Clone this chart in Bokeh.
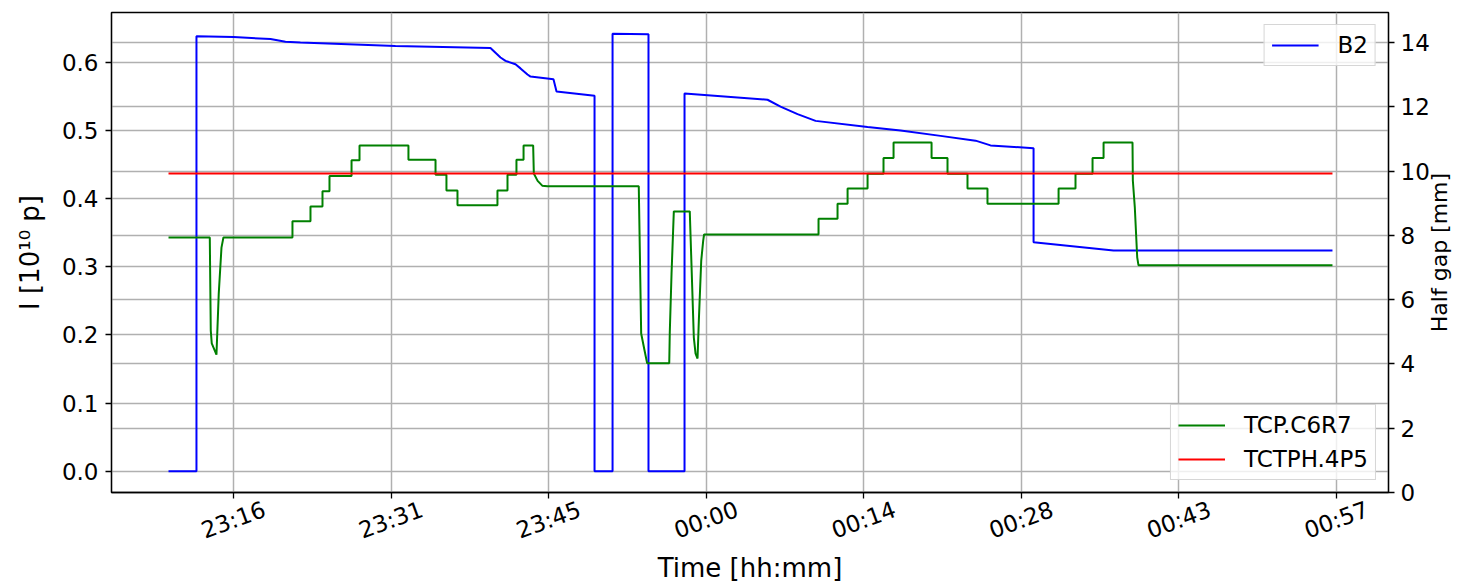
import math
from bokeh.plotting import figure
from bokeh.models import (Range1d, LinearAxis, FixedTicker, Legend, LegendItem, Grid,
                          PrintfTickFormatter)
from bokeh.embed import file_html
from bokeh.resources import INLINE

# time axis: minutes after 23:00
tick_minutes = [16.75, 31.18, 45.61, 60.04, 74.46, 88.89, 103.32, 117.75]
tick_labels = ["23:16", "23:31", "23:45", "00:00", "00:14", "00:28", "00:43", "00:57"]

# B2 beam intensity [1e10 p] (left axis)
b2_t = [10.80, 13.36, 13.36, 16.75, 20.14, 21.51, 22.88, 31.58, 40.28, 40.74, 41.20, 41.66,
        42.57, 43.03, 43.67, 43.95, 46.05, 46.33, 49.81, 49.81, 51.46, 51.46, 54.75, 54.75,
        58.05, 58.05, 65.65, 66.84, 68.40, 70.05, 74.81, 77.83, 81.49, 84.70, 86.07, 90.01,
        90.01, 97.33, 117.38]
b2_i = [0.0, 0.0, 0.638, 0.637, 0.634, 0.630, 0.629, 0.624, 0.621, 0.614, 0.607, 0.602,
        0.597, 0.591, 0.582, 0.579, 0.575, 0.557, 0.551, 0.0, 0.0, 0.642, 0.641, 0.0,
        0.0, 0.554, 0.545, 0.535, 0.524, 0.514, 0.505, 0.500, 0.492, 0.485, 0.478, 0.474,
        0.336, 0.324, 0.324]

# TCP.C6R7 half gap [mm] (right axis)
tcp_t = [10.80, 14.58, 14.67, 14.76, 15.19, 15.40, 15.65, 15.83, 22.15, 22.15, 23.80, 23.80,
         24.90, 24.90, 25.54, 25.54, 27.56, 27.56, 28.29, 28.29, 32.77, 32.77, 35.25, 35.25,
         36.25, 36.25, 37.26, 37.26, 40.92, 40.92, 41.84, 41.84, 42.66, 42.66, 43.31, 43.31,
         44.19, 44.25, 44.60, 45.02, 45.50, 53.86, 54.08, 54.39, 54.63, 56.65, 56.70, 56.86,
         57.07, 58.53, 58.90, 59.06, 59.24, 59.36, 59.58, 59.76, 59.84, 70.32, 70.32, 72.06,
         72.06, 72.98, 72.98, 74.81, 74.81, 76.27, 76.27, 77.19, 77.19, 80.67, 80.67, 82.13,
         82.13, 83.96, 83.96, 85.79, 85.79, 92.30, 92.30, 93.85, 93.85, 95.41, 95.41, 96.42,
         96.42, 99.07, 99.10, 99.28, 99.50, 99.62, 117.38]
tcp_gap = [7.94, 7.94, 5.04, 4.64, 4.29, 6.19, 7.62, 7.94, 7.94, 8.44, 8.44, 8.90,
           8.90, 9.38, 9.38, 9.85, 9.85, 10.34, 10.34, 10.80, 10.80, 10.36, 10.36, 9.89,
           9.89, 9.40, 9.40, 8.94, 8.94, 9.40, 9.40, 9.89, 9.89, 10.36, 10.36, 10.80,
           10.80, 9.93, 9.70, 9.55, 9.53, 9.53, 4.95, 4.42, 4.02, 4.02, 4.99, 6.81,
           8.75, 8.75, 4.83, 4.32, 4.17, 5.35, 7.22, 7.84, 8.03, 8.03, 8.52, 8.52,
           8.99, 8.99, 9.46, 9.46, 9.92, 9.92, 10.41, 10.41, 10.89, 10.89, 10.41, 10.41,
           9.92, 9.92, 9.46, 9.46, 8.99, 8.99, 9.46, 9.46, 9.92, 9.92, 10.41, 10.41,
           10.89, 10.89, 9.71, 8.88, 7.32, 7.07, 7.07]

# TCTPH.4P5 half gap [mm] (right axis)
tctph_t = [10.80, 117.38]
tctph_gap = [9.93, 9.93]

FONT = "DejaVu Sans"
TICK_FS = "23px"

p = figure(frame_width=1277, frame_height=480,
           x_range=Range1d(5.58, 122.51), y_range=Range1d(-0.0312, 0.673),
           output_backend="svg", toolbar_location=None,
           min_border_left=111, min_border_right=70, min_border_top=12, min_border_bottom=89)
p.extra_y_ranges = {"gap": Range1d(0, 14.94)}
p.background_fill_color = "white"
p.border_fill_color = "white"
p.outline_line_color = "black"
p.outline_line_width = 1.3
p.outline_line_alpha = 1.0

grid_color = "#b0b0b0"

# left axis
p.yaxis.ticker = FixedTicker(ticks=[0.0, 0.1, 0.2, 0.3, 0.4, 0.5, 0.6])
p.yaxis.formatter = PrintfTickFormatter(format="%.1f")
p.yaxis.axis_label = "I [10\u00b9\u2070 p]"

# right axis (ticks)
gap_ticks = [0, 2, 4, 6, 8, 10, 12, 14]
ax_r = LinearAxis(y_range_name="gap", ticker=FixedTicker(ticks=gap_ticks))
p.add_layout(ax_r, "right")

# right axis title, reading bottom-to-top like the original (anchored at its start)
title_start = 4.99
ax_rt = LinearAxis(y_range_name="gap", ticker=FixedTicker(ticks=[title_start]),
                   major_label_overrides={title_start: "Half gap [mm]"})
ax_rt.axis_line_color = None
ax_rt.major_tick_line_color = None
ax_rt.major_tick_out = 0
ax_rt.major_tick_in = 0
ax_rt.minor_tick_line_color = None
ax_rt.minor_tick_out = 0
ax_rt.major_label_orientation = math.pi / 2
ax_rt.major_label_standoff = 4
ax_rt.major_label_text_font = FONT
ax_rt.major_label_text_font_size = "22px"
ax_rt.major_label_text_color = "black"
p.add_layout(ax_rt, "right")

# x axis: tick marks at the tick times (labels drawn by a second axis, centred like matplotlib)
ax_x = p.xaxis[0]
ax_x.ticker = FixedTicker(ticks=tick_minutes)
ax_x.major_label_overrides = {t: "" for t in tick_minutes}
ax_x.major_label_standoff = 0
p.xgrid.ticker = FixedTicker(ticks=tick_minutes)

label_shift = 2.84  # minutes: moves the right-aligned rotated label so its centre sits on the tick
shifted = [round(t + label_shift, 2) for t in tick_minutes]
ax_lab = LinearAxis(ticker=FixedTicker(ticks=shifted),
                    major_label_overrides={s: l for s, l in zip(shifted, tick_labels)},
                    axis_label="Time [hh:mm]")
ax_lab.axis_line_color = None
ax_lab.major_tick_line_color = None
ax_lab.major_tick_out = 0
ax_lab.major_tick_in = 0
ax_lab.minor_tick_line_color = None
ax_lab.minor_tick_out = 0
ax_lab.major_label_orientation = math.radians(20)
ax_lab.major_label_standoff = 10
ax_lab.major_label_text_font = FONT
ax_lab.major_label_text_font_size = TICK_FS
ax_lab.major_label_text_color = "black"
ax_lab.axis_label_text_font = FONT
ax_lab.axis_label_text_font_size = "26px"
ax_lab.axis_label_text_font_style = "normal"
ax_lab.axis_label_text_color = "black"
ax_lab.axis_label_standoff = -6
p.add_layout(ax_lab, "below")

for ax in [ax_x, p.yaxis[0], ax_r]:
    ax.axis_line_color = "black"
    ax.axis_line_width = 1.3
    ax.major_tick_line_color = "black"
    ax.major_tick_line_width = 1.3
    ax.major_tick_out = 6
    ax.major_tick_in = 0
    ax.minor_tick_line_color = None
    ax.major_label_text_font = FONT
    ax.major_label_text_font_size = TICK_FS
    ax.major_label_text_color = "black"
    ax.axis_label_text_font = FONT
    ax.axis_label_text_font_style = "normal"
    ax.axis_label_text_color = "black"

p.yaxis.major_label_standoff = 7
p.yaxis.axis_label_text_font_size = "26px"
p.yaxis.axis_label_standoff = 14
ax_r.major_label_standoff = 6

p.xgrid.grid_line_color = grid_color
p.xgrid.grid_line_width = 1.5
p.ygrid.grid_line_color = grid_color
p.ygrid.grid_line_width = 1.5
g2 = Grid(dimension=1, ticker=FixedTicker(ticks=gap_ticks), y_range_name="gap",
          grid_line_color=grid_color, grid_line_width=1.5)
p.add_layout(g2)

r_b2 = p.line(b2_t, b2_i, line_color="#0000ff", line_width=2)
r_tcp = p.line(tcp_t, tcp_gap, line_color="#008000", line_width=2, y_range_name="gap")
r_tctph = p.line(tctph_t, tctph_gap, line_color="#ff0000", line_width=2, y_range_name="gap")

def style_legend(lg):
    lg.label_text_font = FONT
    lg.label_text_font_size = "23px"
    lg.label_text_color = "black"
    lg.glyph_width = 47
    lg.glyph_height = 20
    lg.label_standoff = 19
    lg.padding = 7
    lg.spacing = 8
    lg.margin = 12
    lg.border_line_color = "#cccccc"
    lg.border_line_alpha = 0.8
    lg.border_line_width = 1.3
    lg.background_fill_color = "white"
    lg.background_fill_alpha = 0.8

lg1 = Legend(items=[LegendItem(label="B2", renderers=[r_b2])], location="top_right")
lg2 = Legend(items=[LegendItem(label="TCP.C6R7", renderers=[r_tcp]),
                    LegendItem(label="TCTPH.4P5", renderers=[r_tctph])], location="bottom_right")
style_legend(lg1)
style_legend(lg2)
p.add_layout(lg1)
p.add_layout(lg2)

open("out.html", "w").write(file_html(p, INLINE))
